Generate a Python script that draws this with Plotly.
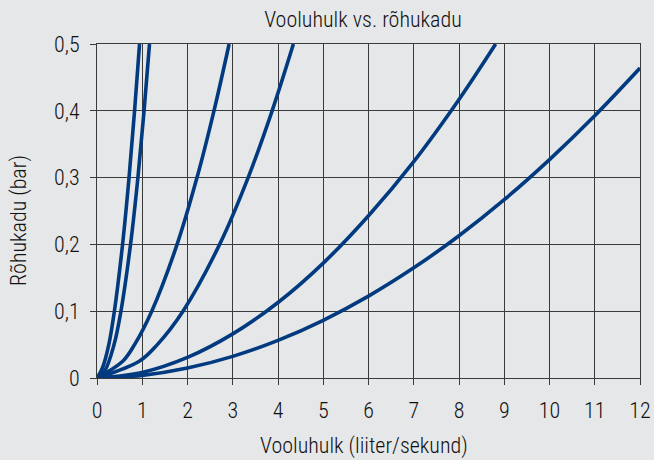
import plotly.graph_objects as go

# Flow (l/s) vs pressure drop (bar)
c1_x = [0, 0.12, 0.261, 0.384, 0.565, 0.708, 0.83, 0.94]
c1_y = [0, 0.015, 0.05, 0.1, 0.2, 0.3, 0.4, 0.5]
c2_x = [0, 0.17, 0.377, 0.529, 0.741, 0.904, 1.04, 1.16]
c2_y = [0, 0.0105, 0.05, 0.1, 0.2, 0.3, 0.4, 0.5]
c3_x = [0, 0.568, 0.83, 1.21, 1.77, 2.21, 2.585, 2.92]
c3_y = [0, 0.025, 0.05, 0.1, 0.2, 0.3, 0.4, 0.5]
c4_x = [0, 0.933, 1.333, 1.9, 2.71, 3.34, 3.87, 4.34]
c4_y = [0, 0.025, 0.05, 0.1, 0.2, 0.3, 0.4, 0.5]
c5_x = [0, 1, 2, 3, 4, 5, 6, 7, 8, 8.81]
c5_y = [0, 0.0084, 0.0308, 0.066, 0.113, 0.172, 0.243, 0.324, 0.417, 0.5]
c6_x = [0, 1, 2, 3, 4, 5, 6, 7, 8, 9, 10, 11, 12]
c6_y = [0, 0.0039, 0.0149, 0.0324, 0.0563, 0.0864, 0.1226, 0.1649, 0.213, 0.267, 0.327, 0.3926, 0.464]

x_ticks = list(range(0, 13))
y_ticks = [0, 0.1, 0.2, 0.3, 0.4, 0.5]
y_tick_labels = ["0", "0,1", "0,2", "0,3", "0,4", "0,5"]

title = "Vooluhulk vs. rõhukadu"
x_title = "Vooluhulk (liiter/sekund)"
y_title = "Rõhukadu (bar)"

FONT = "Roboto Condensed, Liberation Sans, sans-serif"
W = 300
LINE = "#023a80"
BG = "#e6e7e8"
GRID = "#3a3a3a"
TXT = "#111111"

fig = go.Figure()
for xs, ys in [(c1_x, c1_y), (c2_x, c2_y), (c3_x, c3_y), (c4_x, c4_y), (c5_x, c5_y), (c6_x, c6_y)]:
    fig.add_trace(go.Scatter(x=xs, y=ys, mode="lines",
                             line=dict(color=LINE, width=3.6, shape="spline", smoothing=1.0),
                             showlegend=False, hoverinfo="skip", cliponaxis=True))

fig.update_layout(
    width=654, height=460,
    paper_bgcolor=BG, plot_bgcolor=BG,
    margin=dict(l=97, r=14, t=44, b=82, autoexpand=False),
    font=dict(family=FONT, color=TXT, size=22, weight=W),
    title=dict(text=title, xref="paper", x=(363 - 97) / 543, xanchor="center",
               y=1 - 19 / 460, yanchor="middle",
               font=dict(size=22, family=FONT, color=TXT, weight=W)),
    annotations=[
        dict(text=x_title, xref="paper", yref="paper", x=(364 - 97) / 543, y=-(446 - 378) / 334,
             xanchor="center", yanchor="middle", showarrow=False,
             font=dict(size=22, family=FONT, color=TXT, weight=W)),
        dict(text=y_title, xref="paper", yref="paper", x=-(97 - 19) / 543, y=(378 - 221) / 334,
             xanchor="center", yanchor="middle", showarrow=False, textangle=-90,
             font=dict(size=22, family=FONT, color=TXT, weight=W)),
    ],
)
fig.update_xaxes(range=[0, 12], tickvals=x_ticks, ticktext=[str(v) for v in x_ticks],
                 showgrid=True, gridcolor=GRID, gridwidth=1, automargin=False,
                 showline=True, linecolor=GRID, linewidth=1, mirror=True,
                 ticks="outside", ticklen=6, tickcolor=GRID, ticklabelstandoff=7,
                 zeroline=False, tickfont=dict(size=22, weight=W))
fig.update_yaxes(range=[0, 0.5], tickvals=y_ticks, ticktext=y_tick_labels,
                 showgrid=True, gridcolor=GRID, gridwidth=1, automargin=False,
                 showline=True, linecolor=GRID, linewidth=1, mirror=True,
                 ticks="outside", ticklen=6, tickcolor=GRID, ticklabelstandoff=6,
                 zeroline=False, tickfont=dict(size=22, weight=W))

fig.write_html("out.html", config={"displayModeBar": False},
               post_script="document.body.style.margin='0';")
